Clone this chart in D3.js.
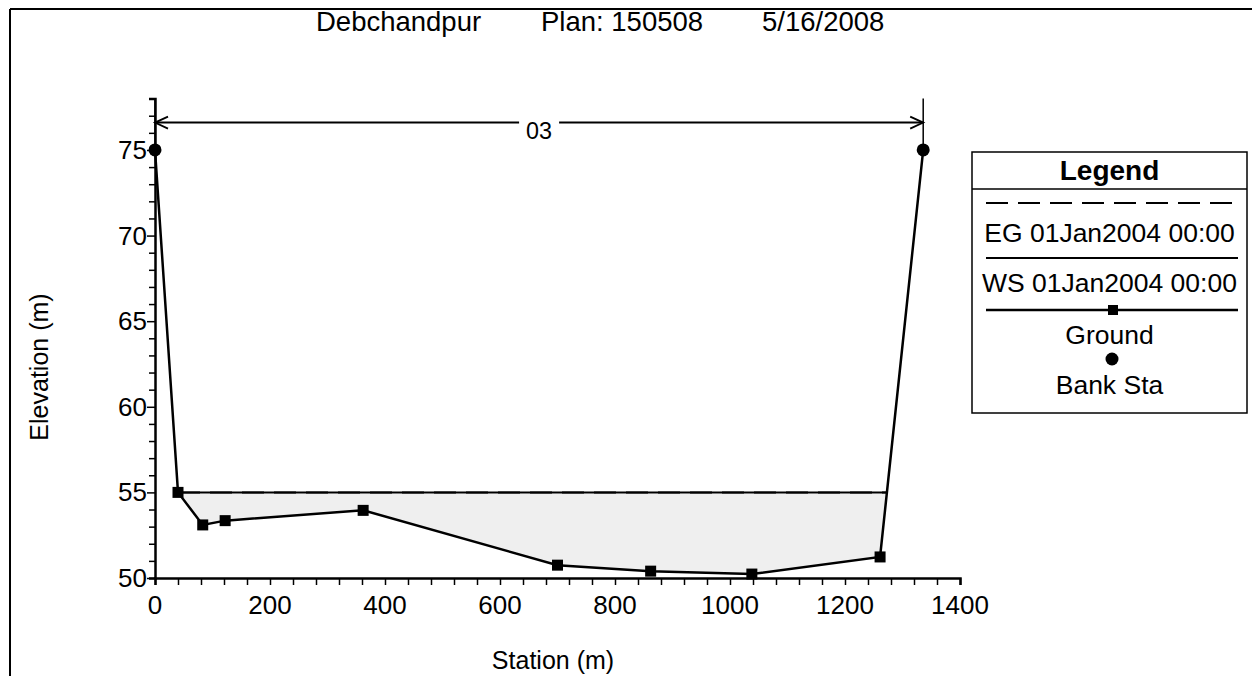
<!DOCTYPE html>
<html><head><meta charset="utf-8">
<script src="https://cdn.jsdelivr.net/npm/d3@7/dist/d3.min.js"></script>
<style>body{margin:0;background:#fff}svg{display:block}text{font-family:"Liberation Sans",Arial,sans-serif;fill:#000}</style>
</head><body><svg id="c" width="1252" height="676"></svg>
<script>
// ---- data ----
const stations   = [0, 40, 83, 122, 362, 700, 862, 1038, 1261, 1336];
const elevations = [75, 55, 53.1, 53.35, 53.95, 50.75, 50.4, 50.23, 51.23, 75];
const bankStations = [0, 1336];
const wsElev = 55.0;
const egElev = 55.0;
const xTicks = [0, 200, 400, 600, 800, 1000, 1200, 1400];
const yTicks = [50, 55, 60, 65, 70, 75];
const titleParts = ["Debchandpur", "Plan: 150508", "5/16/2008"];
const legendItems = ["EG 01Jan2004 00:00", "WS 01Jan2004 00:00", "Ground", "Bank Sta"];
const reachLabel = "03";

const svg = d3.select("#c");
const x = d3.scaleLinear().domain([0, 1400]).range([155, 960]);
const y = d3.scaleLinear().domain([50, 78]).range([578, 98.6]);
const ground = stations.map((s, i) => ({s, e: elevations[i]}));

// frame lines
svg.append("line").attr("x1", 10).attr("x2", 1252).attr("y1", 9).attr("y2", 9).attr("stroke", "#000").attr("stroke-width", 2);
svg.append("line").attr("x1", 10).attr("x2", 10).attr("y1", 9).attr("y2", 676).attr("stroke", "#000").attr("stroke-width", 2);

// title
const titleX = [316, 541, 762];
titleParts.forEach((t, i) => svg.append("text").attr("x", titleX[i]).attr("y", 31).attr("font-size", 27.5).text(t));

// water fill
svg.append("clipPath").attr("id", "below").append("rect")
  .attr("x", x(0)).attr("y", y(wsElev) + 1).attr("width", x(1400) - x(0)).attr("height", y(50) - y(wsElev));
svg.append("path").datum(ground)
  .attr("clip-path", "url(#below)")
  .attr("d", d3.area().x(d => x(d.s)).y0(d => y(d.e)).y1(y(wsElev)))
  .attr("fill", "#efefef");

// intersections of WS with ground
function crossings(level) {
  const pts = [];
  for (let i = 0; i < ground.length - 1; i++) {
    const a = ground[i], b = ground[i + 1];
    if ((a.e - level) * (b.e - level) <= 0 && a.e !== b.e) {
      pts.push(a.s + (level - a.e) / (b.e - a.e) * (b.s - a.s));
    }
  }
  return [d3.min(pts), d3.max(pts)];
}
const [wl, wr] = crossings(wsElev);
svg.append("line").attr("x1", x(wl)).attr("x2", x(wr)).attr("y1", y(wsElev)).attr("y2", y(wsElev))
  .attr("stroke", "#000").attr("stroke-width", 2);
const [el, er] = crossings(egElev);
svg.append("line").attr("x1", x(el)).attr("x2", x(er)).attr("y1", y(egElev)).attr("y2", y(egElev))
  .attr("stroke", "#000").attr("stroke-width", 2).attr("stroke-dasharray", "22,10");

// axes
const xAxisG = svg.append("g").attr("transform", `translate(0,${y(50)})`);
xAxisG.call(d3.axisBottom(x).tickValues(d3.range(0, 1401, 40)).tickSize(7).tickFormat(""));
const yAxisG = svg.append("g").attr("transform", `translate(${x(0)},0)`);
yAxisG.call(d3.axisLeft(y).tickValues(d3.range(50, 78, 1)).tickSize(6).tickFormat(""));
[xAxisG, yAxisG].forEach(g => { g.select(".domain").attr("stroke", "#000").attr("stroke-width", 2.5); g.selectAll(".tick line").attr("stroke", "#000").attr("stroke-width", 1.5); });
yAxisG.selectAll(".tick").filter(d => d % 5 === 0).select("line").attr("x2", -8);
xTicks.forEach(t => svg.append("text").attr("x", x(t)).attr("y", 614).attr("text-anchor", "middle").attr("font-size", 26).text(t));
yTicks.forEach(t => svg.append("text").attr("x", 147).attr("y", y(t) + 9).attr("text-anchor", "end").attr("font-size", 26).text(t));
svg.append("text").attr("x", 553).attr("y", 669).attr("text-anchor", "middle").attr("font-size", 25).text("Station (m)");
svg.append("text").attr("transform", "translate(48,367) rotate(-90)").attr("text-anchor", "middle").attr("font-size", 25).text("Elevation (m)");

// bank station reach arrow
const arrowY = y(76.6);
bankStations.forEach(b => svg.append("line").attr("x1", x(b)).attr("x2", x(b)).attr("y1", y(78)).attr("y2", y(75))
  .attr("stroke", "#000").attr("stroke-width", 1.5));
const mid = (x(bankStations[0]) + x(bankStations[1])) / 2;
svg.append("line").attr("x1", x(bankStations[0])).attr("x2", mid - 20).attr("y1", arrowY).attr("y2", arrowY).attr("stroke", "#000").attr("stroke-width", 2);
svg.append("line").attr("x1", mid + 20).attr("x2", x(bankStations[1])).attr("y1", arrowY).attr("y2", arrowY).attr("stroke", "#000").attr("stroke-width", 2);
svg.append("path").attr("d", `M${x(bankStations[0]) + 13},${arrowY - 6} L${x(bankStations[0])},${arrowY} L${x(bankStations[0]) + 13},${arrowY + 6}`).attr("fill", "none").attr("stroke", "#000").attr("stroke-width", 1.8);
svg.append("path").attr("d", `M${x(bankStations[1]) - 13},${arrowY - 6} L${x(bankStations[1])},${arrowY} L${x(bankStations[1]) - 13},${arrowY + 6}`).attr("fill", "none").attr("stroke", "#000").attr("stroke-width", 1.8);
svg.append("text").attr("x", mid).attr("y", arrowY + 16).attr("text-anchor", "middle").attr("font-size", 24).attr("textLength", 26).attr("lengthAdjust", "spacingAndGlyphs").text(reachLabel);

// ground
svg.append("path").datum(ground).attr("d", d3.line().x(d => x(d.s)).y(d => y(d.e)))
  .attr("fill", "none").attr("stroke", "#000").attr("stroke-width", 2.5);
svg.selectAll(".gpt").data(ground.filter(d => !bankStations.includes(d.s))).join("rect")
  .attr("x", d => x(d.s) - 5.5).attr("y", d => y(d.e) - 5.5).attr("width", 11).attr("height", 11).attr("fill", "#000");
svg.selectAll(".bpt").data(ground.filter(d => bankStations.includes(d.s))).join("circle")
  .attr("cx", d => x(d.s)).attr("cy", d => y(d.e)).attr("r", 6.5).attr("fill", "#000");

// legend
const L = {x0: 972, x1: 1247, y0: 152, y1: 413};
svg.append("rect").attr("x", L.x0).attr("y", L.y0).attr("width", L.x1 - L.x0).attr("height", L.y1 - L.y0)
  .attr("fill", "#fff").attr("stroke", "#000").attr("stroke-width", 1.5);
svg.append("line").attr("x1", L.x0).attr("x2", L.x1).attr("y1", 189).attr("y2", 189).attr("stroke", "#000").attr("stroke-width", 1.5);
const lc = (L.x0 + L.x1) / 2;
svg.append("text").attr("x", lc).attr("y", 180).attr("text-anchor", "middle").attr("font-size", 28).attr("font-weight", "bold").text("Legend");
const lx0 = 986, lx1 = 1238;
svg.append("line").attr("x1", lx0).attr("x2", lx1).attr("y1", 203).attr("y2", 203).attr("stroke", "#000").attr("stroke-width", 2).attr("stroke-dasharray", "22,10");
svg.append("line").attr("x1", lx0).attr("x2", lx1).attr("y1", 258).attr("y2", 258).attr("stroke", "#000").attr("stroke-width", 2);
svg.append("line").attr("x1", lx0).attr("x2", lx1).attr("y1", 310).attr("y2", 310).attr("stroke", "#000").attr("stroke-width", 2.5);
svg.append("rect").attr("x", 1108).attr("y", 305).attr("width", 10).attr("height", 10).attr("fill", "#000");
svg.append("circle").attr("cx", 1112).attr("cy", 359).attr("r", 6.5).attr("fill", "#000");
const legY = [242, 292, 344, 394];
legendItems.forEach((t, i) => svg.append("text").attr("x", lc).attr("y", legY[i]).attr("text-anchor", "middle").attr("font-size", 26.5).text(t));
</script></body></html>
